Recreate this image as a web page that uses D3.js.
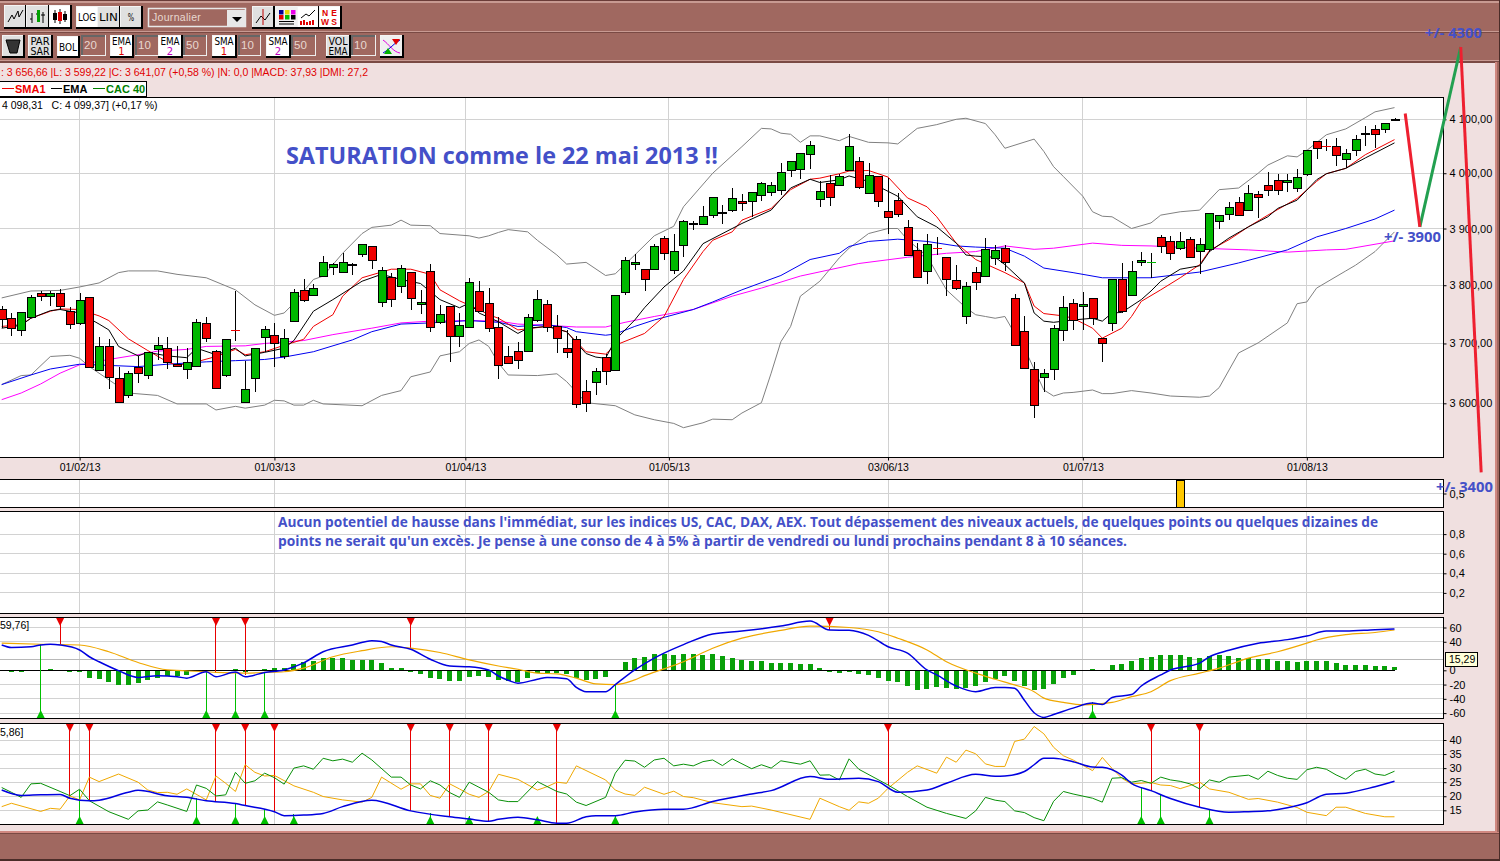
<!DOCTYPE html>
<html>
<head>
<meta charset="utf-8">
<title>CAC 40</title>
<script src="https://cdnjs.cloudflare.com/ajax/libs/d3/7.8.5/d3.min.js"></script>
<style>
  html, body { margin: 0; padding: 0; background: #f0e0e0; overflow: hidden; }
  svg { display: block; }
  text { font-family: "Liberation Sans", Arial, sans-serif; }
  .note { font-family: "Open Sans", "Noto Sans", sans-serif; font-weight: 700; fill: #4450c8; }
</style>
</head>
<body>
<script>
// Data - daily candles
const opens = [
  3759,3743,3723,3745,3787,3781,3787,3756,3736,3780,
  3655,3695,3642,3613,3661,3647,3692,3693,3665,3657,
  3662,3735,3687,3647,3723,3602,3642,3710,3714,3680,
  3738,3792,3783,3816,3832,3823,3835,3855,3869,3771,
  3815,3799,3823,3768,3825,3736,3764,3712,3729,3790,
  3769,3728,3678,3688,3687,3740,3768,3730,3693,3708,
  3620,3635,3677,3655,3788,3837,3828,3828,3883,3827,
  3870,3907,3908,3924,3927,3933,3949,3949,3960,3967,
  3969,4005,4007,4035,3953,3982,3979,4006,4022,3964,
  3995,3931,3951,3902,3862,3825,3865,3849,3809,3747,
  3823,3816,3848,3865,3778,3721,3657,3643,3657,3723,
  3769,3764,3778,3709,3735,3811,3783,3841,3840,3885,
  3878,3865,3882,3860,3863,3914,3927,3948,3933,3962,
  3978,3987,3983,3973,3998,4059,4050,4050,4026,4044,
  4073,4082,4082,4098]
const highs = [
  3764,3752,3754,3783,3790,3790,3794,3762,3787,3780,
  3711,3707,3661,3654,3678,3686,3711,3711,3696,3692,
  3742,3745,3689,3707,3790,3671,3692,3729,3734,3724,
  3794,3810,3802,3852,3839,3857,3839,3872,3869,3831,
  3822,3836,3823,3792,3838,3766,3764,3752,3812,3808,
  3795,3745,3696,3702,3751,3791,3775,3749,3723,3712,
  3639,3658,3682,3783,3849,3855,3828,3872,3887,3890,
  3915,3914,3941,3956,3942,3973,3962,3965,3984,3984,
  4018,4022,4037,4059,3985,3996,3998,4072,4030,4018,
  3995,3991,3964,3916,3874,3890,3884,3849,3835,3806,
  3832,3883,3870,3871,3785,3746,3668,3657,3732,3782,
  3776,3788,3778,3709,3811,3839,3843,3858,3856,3888,
  3887,3894,3884,3883,3927,3925,3947,3956,3978,3968,
  4002,3999,3999,4008,4043,4059,4064,4065,4044,4071,
  4088,4090,4093,4102]
const lows = [
  3726,3713,3712,3743,3772,3764,3758,3725,3732,3659,
  3654,3624,3601,3608,3634,3640,3672,3657,3660,3641,
  3661,3702,3623,3644,3705,3601,3619,3685,3661,3673,
  3738,3771,3781,3816,3817,3823,3817,3849,3829,3762,
  3762,3787,3757,3750,3719,3733,3669,3694,3729,3753,
  3719,3640,3667,3657,3686,3736,3719,3684,3676,3592,
  3585,3614,3631,3655,3783,3826,3790,3828,3844,3820,
  3849,3897,3908,3918,3908,3930,3932,3921,3950,3958,
  3961,3993,3990,4008,3939,3941,3977,4005,3971,3963,
  3938,3890,3920,3853,3815,3802,3853,3781,3792,3733,
  3792,3816,3836,3824,3697,3658,3576,3619,3638,3705,
  3723,3723,3731,3669,3722,3752,3783,3833,3813,3856,
  3845,3862,3847,3820,3859,3899,3915,3924,3932,3919,
  3959,3961,3965,3965,3994,4027,4040,4014,4009,4032,
  4050,4046,4075,4098]
const closes = [
  3742,3726,3754,3780,3781,3787,3765,3733,3775,3660,
  3695,3643,3602,3650,3651,3686,3698,3669,3662,3668,
  3736,3710,3625,3707,3722,3623,3692,3724,3700,3710,
  3788,3775,3795,3841,3837,3841,3837,3872,3844,3826,
  3777,3830,3777,3771,3728,3750,3712,3731,3806,3755,
  3726,3663,3667,3672,3745,3776,3729,3710,3687,3600,
  3600,3653,3653,3783,3844,3841,3811,3869,3856,3860,
  3913,3909,3922,3956,3929,3955,3945,3965,3982,3979,
  4002,4022,4037,4052,3967,3956,3995,4050,3975,3996,
  3949,3920,3925,3853,3815,3872,3864,3811,3795,3798,
  3806,3863,3862,3841,3698,3658,3597,3650,3726,3762,
  3740,3768,3743,3701,3811,3755,3825,3844,3841,3869,
  3856,3878,3851,3872,3927,3925,3939,3924,3964,3956,
  3969,3969,3987,3993,4043,4046,4049,4033,4038,4064,
  4075,4072,4093,4100]

// Overlays on the price panel: candle index + price
const bollUpI = [0,3,6,8,10,12,13,16,18,21,24,26,28,29,30,32,33,35,37,38,40,41,42,44,45,48,49,50,51,52,54,55,57,58,60,62,63,65,67,69,70,73,76,78,79,80,81,82,83,84,86,87,89,91,92,94,96,98,99,101,102,103,106,107,108,109,111,112,113,114,116,118,119,121,123,125,127,129,130,132,133,134,136,138,140,141,143]
const bollUpV = [3778,3790,3791,3797,3804,3822,3825,3825,3819,3813,3792,3766,3748,3752,3769,3810,3816,3856,3891,3902,3906,3915,3906,3905,3891,3887,3883,3887,3893,3898,3894,3879,3853,3837,3840,3817,3820,3853,3887,3904,3939,4000,4049,4083,4082,4074,4072,4057,4069,4069,4060,4068,4057,4056,4054,4083,4090,4100,4102,4092,4071,4046,4063,4040,4012,3994,3958,3930,3922,3921,3900,3910,3924,3930,3933,3970,3973,4000,4015,4032,4030,4042,4071,4082,4103,4114,4122]
const bollDnI = [0,2,3,5,7,8,9,13,16,18,21,22,24,25,27,28,29,30,31,32,33,37,39,41,42,44,45,47,48,49,50,51,52,55,57,58,60,63,65,67,69,70,72,73,75,76,78,79,80,81,82,84,86,87,89,91,92,93,95,97,99,100,101,102,103,104,105,107,108,109,110,112,113,114,116,118,120,123,124,125,127,129,132,133,134,135,138,139,141,143]
const bollDnV = [3631,3646,3647,3678,3680,3675,3661,3617,3613,3599,3599,3589,3595,3592,3597,3605,3604,3597,3597,3605,3599,3596,3613,3621,3644,3652,3679,3686,3700,3706,3695,3667,3647,3646,3649,3636,3601,3596,3581,3573,3567,3560,3568,3574,3573,3584,3601,3650,3703,3729,3781,3807,3848,3865,3891,3900,3900,3880,3851,3792,3761,3749,3746,3743,3746,3717,3692,3622,3612,3617,3618,3622,3616,3616,3621,3617,3612,3610,3612,3626,3684,3701,3735,3768,3771,3795,3825,3835,3859,3894]
const emaI = [0,2,3,5,6,8,10,11,12,14,15,17,19,20,22,24,25,27,29,30,32,34,37,39,41,43,45,47,48,49,51,53,54,56,58,60,61,62,63,65,66,68,70,72,76,79,81,83,84,86,87,89,92,94,96,98,99,100,102,103,105,106,107,108,110,112,113,114,115,117,118,119,121,123,124,126,128,130,131,133,135,136,138,140,143]
const emaV = [3726,3731,3743,3756,3758,3752,3733,3723,3695,3679,3685,3679,3676,3692,3681,3692,3679,3685,3692,3705,3755,3775,3807,3819,3810,3803,3775,3761,3769,3752,3737,3717,3726,3729,3720,3683,3677,3675,3706,3740,3761,3797,3825,3873,3909,3933,3973,3989,3983,3988,3995,3985,3958,3921,3903,3874,3853,3851,3849,3836,3804,3752,3738,3736,3740,3743,3738,3752,3753,3775,3790,3807,3828,3834,3859,3883,3903,3921,3936,3951,3988,3999,4009,4028,4056]
const smaI = [0,2,3,5,6,8,10,11,13,15,17,18,20,22,24,25,27,29,31,32,34,35,37,40,42,44,45,47,49,50,51,53,56,58,60,62,63,66,68,70,72,73,75,76,79,81,83,84,86,87,89,91,93,95,96,98,100,103,105,106,107,109,110,112,113,115,116,117,119,121,123,124,126,128,130,133,135,136,138,140,143]
const smaV = [3729,3732,3743,3755,3759,3758,3747,3739,3708,3688,3669,3663,3669,3678,3690,3681,3686,3697,3707,3729,3749,3781,3813,3828,3828,3819,3792,3773,3758,3749,3743,3723,3729,3720,3686,3682,3697,3717,3746,3810,3859,3879,3894,3915,3936,3970,3989,3991,3999,4004,4005,3993,3955,3939,3921,3874,3845,3822,3804,3764,3751,3747,3743,3726,3709,3726,3746,3772,3792,3813,3836,3861,3880,3903,3924,3954,3985,3999,4009,4034,4062]
const ema50I = [0,3,5,8,14,17,21,24,27,29,32,36,38,41,44,48,51,53,56,58,59,62,63,65,67,71,73,76,80,83,86,87,89,92,95,98,100,103,105,107,110,113,118,123,127,132,135,138,141,143]
const ema50V = [3631,3647,3657,3665,3661,3665,3669,3671,3673,3677,3686,3706,3720,3733,3735,3739,3736,3729,3732,3727,3720,3714,3716,3729,3740,3758,3771,3792,3817,3845,3856,3868,3877,3881,3877,3869,3867,3865,3851,3830,3822,3813,3813,3823,3839,3862,3885,3900,3917,3933]
const sma50I = [0,2,4,6,8,11,14,16,19,21,25,27,31,34,38,41,44,48,51,53,56,59,62,64,67,71,75,78,82,85,88,93,97,100,103,106,108,112,115,118,123,128,132,136,138,143]
const sma50V = [3606,3617,3632,3650,3664,3673,3681,3687,3690,3695,3696,3700,3705,3715,3726,3735,3738,3739,3738,3733,3731,3728,3728,3736,3746,3758,3781,3795,3816,3827,3838,3849,3856,3859,3869,3863,3865,3874,3870,3869,3865,3862,3858,3862,3863,3878]

// MACD panel
const macdHist = [
  0,-2,-2,0,0,2,0,-3,-2,-11,
  -12,-16,-21,-21,-18,-14,-11,-8,-8,-6,
  0,0,-1,0,2,-2,0,2,3,3,
  9,12,13,17,17,17,15,15,14,10,
  3,3,-2,-5,-11,-12,-15,-15,-9,-8,
  -9,-14,-15,-16,-11,-4,-4,-4,-5,-11,
  -14,-12,-9,0,12,17,19,23,23,21,
  23,23,21,23,20,17,14,13,13,10,
  10,10,9,9,3,-2,-4,-2,-5,-6,
  -11,-15,-16,-22,-27,-26,-23,-25,-26,-25,
  -22,-16,-12,-8,-15,-22,-27,-26,-19,-11,
  -6,0,2,0,7,9,13,17,19,21,
  21,21,19,17,20,21,20,17,17,16,
  16,13,13,12,13,13,13,10,7,7,
  7,6,6,5]
const macdI = [0,1,3,4,5,6,8,9,10,12,14,16,18,19,21,22,24,25,27,29,31,33,36,38,39,40,42,44,46,48,50,51,52,53,55,56,58,59,60,62,63,65,67,68,70,73,76,80,83,85,87,89,91,93,95,96,98,100,102,103,104,105,106,107,108,110,112,113,114,116,117,119,120,123,124,126,129,132,134,136,138,141,143]
const macdV = [35.5,32,33,35.5,36.5,35.5,28.5,19,12,-0.5,-10,-7.5,-9,-11,-2,-9,-2.5,-9,-3,0.5,10.5,26,35.5,41.5,40.5,35.5,29.5,15.5,6,5,0.5,-8,-14,-18,-12.5,-10,-12,-24,-30,-30,-20,0.5,17,24,36,51,55,62,69,56.5,56,49,33,24,0.5,-6.5,-22,-30,-24,-24,-25,-42,-59.5,-66,-62,-53,-46,-48,-38,-34,-22,-6.5,0.5,10,19,28,38,43,48,55,55,57,58]
const signalI = [0,4,8,11,14,17,21,22,25,27,29,31,34,37,40,42,45,48,51,53,55,57,59,61,63,65,66,68,70,73,76,80,83,87,90,92,95,97,100,102,104,106,107,109,111,114,116,118,120,123,125,128,131,134,135,138,141,143]
const signalV = [38,36.5,35.5,26,11,0.5,-2,-3,-4,-3,-2,3,19,27.5,33,31,25,14.5,6,1.5,-4,-5,-11,-19,-20,-13.5,-7.5,2,12,31,45,56,62,60,54,45,28.5,12,-4,-12.5,-20.5,-30,-39,-45,-48.5,-45,-37,-30,-14.5,-4,3,17,26,38,42.5,50,53,56.5]
const macdSellI = [6,22,25,42,85]
const macdSellV = [35.5,-4,-6.5,31,56.5]
const macdBuyI = [4,21,24,27,63,112]
const macdBuyV = [36.5,-2,-2,-3,-19,-45]

// DMI panel
const adxI = [0,2,4,6,7,9,10,13,14,17,19,21,24,25,28,29,31,33,35,38,42,46,48,50,51,53,55,57,58,60,61,63,65,68,70,73,77,79,83,85,88,90,92,95,97,100,102,103,105,106,107,108,110,112,113,115,116,118,120,123,126,128,130,132,134,136,138,141,143]
const adxV = [22.2,20.3,20.5,20.6,19.3,18.4,18.6,21.4,22.1,20.2,19.6,18.4,17.4,16.7,14.5,13.1,13.3,13.9,16.3,18.6,14.8,12.7,11.9,11.1,11.8,12.5,11.6,10.4,10.4,12.7,13.1,13.1,14.4,15.4,15.4,18.1,20.8,22,27,26,26.4,25.2,21.4,22.2,24.6,27.8,27.1,27.2,28.8,31.2,33.5,33.5,32.3,30.4,30.3,27.5,24.6,22,19.2,16.1,14.3,14.5,14.8,15.9,17.7,20.7,21.1,23.4,25.3]
const diMinusI = [0,1,4,5,6,7,8,9,10,12,14,15,16,17,18,19,21,22,23,24,25,26,27,28,30,32,33,35,37,38,39,41,42,43,44,45,46,47,48,49,50,51,53,55,56,57,58,59,62,63,64,65,66,68,69,70,71,73,76,77,79,83,84,86,87,88,89,90,91,93,94,96,97,98,99,100,101,102,103,104,105,106,107,108,109,110,112,113,114,115,116,118,119,120,121,122,123,124,126,128,129,131,133,134,136,137,138,140,142,143]
const diMinusV = [16.3,17.5,14.6,15.7,15.4,20.1,18.7,26.8,25.2,27.9,25,22.2,21.3,21.4,20.7,22.6,18.7,27.2,24.6,21.7,31.2,28.5,27.2,27.4,23.7,21.4,19.9,18.7,17.9,19.6,26.8,22.5,24.4,24.4,20.3,19.3,24.4,22.6,20.7,19.6,21.7,27.8,26,22.2,23.4,25,24.6,30.8,25.8,22.2,20.8,20.3,23.2,20.7,21.8,19.9,19.5,17.7,16.3,16.5,15.1,11.8,19.3,16.3,15,18,17.5,19.3,22.8,28.5,30.8,28.2,33.9,32.1,36.4,35.1,31.5,30.6,30.6,39.5,40.3,44.8,42.2,37.4,34.4,32.9,29.1,33.8,29.9,26.4,24.4,24.9,24,23.8,22.7,23.8,25,22.6,21.4,18.9,19.2,17.9,16,14.3,13.1,16.1,16.1,13.9,12.7,12.7]
const diPlusI = [0,1,2,3,4,6,7,8,9,11,13,14,15,16,17,19,20,21,22,23,24,25,26,27,28,29,30,31,32,33,34,35,36,37,38,40,41,42,43,44,45,46,47,48,49,50,51,52,53,55,57,58,59,60,62,63,64,65,66,67,68,69,70,71,72,73,74,75,77,78,79,80,82,83,84,85,86,87,88,91,93,95,97,99,100,101,102,103,104,105,106,107,108,109,110,112,113,114,115,116,117,118,119,120,121,122,123,124,125,126,128,129,130,131,132,133,134,135,136,137,138,139,140,141,142,143]
const diPlusV = [23.1,21.4,19.6,24.4,24.6,21.7,20.2,22.5,18.4,14.5,11.8,14.8,15.1,18,16.9,14.6,24,22.8,20.1,20.5,28.5,24.6,25.5,28.2,26.6,24.3,30,30.8,29.6,33.5,32.6,33.2,32.1,35.3,32.9,26.8,26.8,24,22.6,25.5,24,21.3,19.6,25,23.2,21.4,18.7,18.1,18.1,25.2,21.7,20.8,17.9,16.7,19.6,28.2,32.8,32.5,30.3,32.9,33.5,30.8,31.4,30.8,32.3,32.9,30.9,33.3,29.8,31.2,30,32.6,31.4,32.6,27.5,27.6,25.8,33.3,29.6,24,19.9,16.1,13.9,12.1,14.8,19.6,18.6,18.1,14.8,14.2,12.4,11.3,18.2,21.7,20.8,19.3,17.9,26.4,26.6,25,25.6,24.6,26.8,25.8,25.3,24.4,22.6,25.8,25,26.8,27.5,26,28.9,27.4,26.4,26,29.4,30.3,29.6,27.6,26,28.8,29.6,27.9,27.4,28.9]
const dmiSellI = [7,9,22,25,28,42,46,50,57,91,118,123]
const dmiSellV = [19.3,18.4,18.4,16.7,14.5,14.8,12.7,11.1,10.4,24,22,16.1]
const dmiBuyI = [8,20,24,27,30,44,48,55,63,117,119,124]
const dmiBuyV = [22.2,19.3,17.5,15.5,13.7,13.9,13,12.7,13.1,23.4,20.8,15.5]

// Yellow marker strip
const yellowI = [121]
const yellowV = [1]

// Hand drawn forecast on top: index + price
const fcRedI = [144.1,145.6]
const fcRedV = [4111,3903]
const fcGreenI = [145.6,149.8]
const fcGreenV = [3903,4238]
const fcDropI = [149.8,151.9]
const fcDropV = [4238,3488]

// Tick labels
const dateIdx = [8,28,47.6,68.5,91,111,134]
const dateLabels = ['01/02/13','01/03/13','01/04/13','01/05/13','03/06/13','01/07/13','01/08/13']
const priceTicks = [3600,3700,3800,3900,4000,4100]
const priceLabels = ['3 600,00','3 700,00','3 800,00','3 900,00','4 000,00','4 100,00']
const macdTicks = [-60,-40,-20,0,40,60]
const dmiTicks = [15,20,25,30,35,40]
const osTicks = [0.2,0.4,0.6,0.8]

const BROWN = '#a06860', PINK = '#f0e0e0', GRID = '#d2d2d2'

const svg = d3.select('body').append('svg').attr('width', 1500).attr('height', 861)

// Window chrome
function chrome(cx, cy, w, h, fill) {
  svg.append('rect').attr('x', cx).attr('y', cy).attr('width', w).attr('height', h).attr('fill', fill)
}
chrome(0, 0, 1500, 861, PINK)
chrome(0, 0, 1500, 62, BROWN)
chrome(0, 0, 1500, 1, '#6a3c38')
chrome(0, 1, 1500, 2, '#c89a92')
chrome(0, 31, 1500, 1, '#c89a92')
chrome(0, 32, 1500, 1, '#7a4a44')
chrome(0, 60, 1500, 1, '#c89a92')
chrome(0, 61, 1500, 2, '#7a4a44')
chrome(0, 831, 1500, 30, BROWN)
chrome(0, 831, 1500, 2, '#d08880')
chrome(0, 833, 1500, 1, '#7a4a44')
chrome(0, 859, 1500, 2, '#4a2c28')
chrome(1495, 62, 5, 770, BROWN)
chrome(1495, 62, 2, 770, '#d08880')
chrome(1499, 0, 1, 861, '#4a2c28')

// Scales
const x = d3.scaleLinear().domain([0, 143]).range([1.7, 1394.5])
const yPrice = d3.scaleLog().domain([3600, 4100]).range([403.3, 119.3])
const yMacd = d3.scaleLinear().domain([-60, 60]).range([713.1, 627.5])
const yDmi = d3.scaleLinear().domain([15, 40]).range([810.3, 740])
const yOsc = d3.scaleLinear().domain([0, 1]).range([612.5, 514.5])
const yVol = d3.scaleLinear().domain([0, 1]).range([507, 480])

const PLOT_L = -1, PLOT_R = 1443.5

// Panels: white box with date grid
function panel(top, bottom, id) {
  svg.append('clipPath').attr('id', id).append('rect')
    .attr('x', PLOT_L).attr('y', top).attr('width', PLOT_R - PLOT_L).attr('height', bottom - top)
  svg.append('rect').attr('x', PLOT_L).attr('y', top).attr('width', PLOT_R - PLOT_L).attr('height', bottom - top)
    .attr('fill', '#fff')
  svg.append('g').selectAll('line').data(dateIdx).enter().append('line')
    .attr('x1', d => x(d)).attr('x2', d => x(d))
    .attr('y1', top).attr('y2', bottom)
    .attr('stroke', GRID).attr('stroke-width', 1).attr('shape-rendering', 'crispEdges')
}
function hgrid(scale, ticks) {
  svg.append('g').selectAll('line').data(ticks).enter().append('line')
    .attr('x1', PLOT_L).attr('x2', PLOT_R)
    .attr('y1', d => scale(d)).attr('y2', d => scale(d))
    .attr('stroke', GRID).attr('stroke-width', 1).attr('shape-rendering', 'crispEdges')
}
function frame(top, bottom) {
  svg.append('rect').attr('x', PLOT_L).attr('y', top + 0.5).attr('width', PLOT_R - PLOT_L).attr('height', bottom - top)
    .attr('fill', 'none').attr('stroke', '#000').attr('stroke-width', 1).attr('shape-rendering', 'crispEdges')
}
// right hand axis, labels only
function rightAxis(scale, ticks, labels) {
  const ax = d3.axisRight(scale).tickValues(ticks).tickSize(3).tickPadding(3)
    .tickFormat((d, i) => labels ? labels[i] : String(d).replace('.', ','))
  const g = svg.append('g').attr('transform', `translate(${PLOT_R},0)`).call(ax)
  g.select('.domain').remove()
  g.selectAll('text').attr('font-size', 11).attr('fill', '#000').style('font-family', '"Liberation Sans", Arial, sans-serif')
  g.selectAll('line').attr('stroke', '#000')
}
function seriesLine(g, xs, vs, scale, color, w, curve) {
  const pts = xs.map((d, i) => [d, vs[i]])
  const line = d3.line().x(d => x(d[0])).y(d => scale(d[1]))
  if (curve) line.curve(curve)
  g.append('path').datum(pts)
    .attr('fill', 'none').attr('stroke', color).attr('stroke-width', w).attr('stroke-linejoin', 'round')
    .attr('d', line)
}
function signals(g, xs, vs, scale, top, bottom, color, up) {
  const pts = xs.map((d, i) => [d, vs[i]])
  g.selectAll(null).data(pts).enter().append('line')
    .attr('x1', d => x(d[0])).attr('x2', d => x(d[0]))
    .attr('y1', d => scale(d[1])).attr('y2', up ? bottom : top)
    .attr('stroke', color).attr('stroke-width', 1).attr('shape-rendering', 'crispEdges')
  g.selectAll(null).data(pts).enter().append('path')
    .attr('fill', color)
    .attr('d', d => {
      const px = x(d[0])
      return up
        ? `M${px - 4},${bottom} L${px},${bottom - 8} L${px + 4},${bottom} Z`
        : `M${px - 4},${top} L${px},${top + 8} L${px + 4},${top} Z`
    })
}

// Price panel
const TOP1 = 97, BOT1 = 457
panel(TOP1, BOT1, 'clipPrice')
hgrid(yPrice, priceTicks)
const gPrice = svg.append('g').attr('clip-path', 'url(#clipPrice)')
seriesLine(gPrice, bollUpI, bollUpV, yPrice, '#808080', 1)
seriesLine(gPrice, bollDnI, bollDnV, yPrice, '#808080', 1)
seriesLine(gPrice, sma50I, sma50V, yPrice, '#ff00ff', 1)
seriesLine(gPrice, ema50I, ema50V, yPrice, '#0000f0', 1)
seriesLine(gPrice, smaI, smaV, yPrice, '#f00000', 1)
seriesLine(gPrice, emaI, emaV, yPrice, '#000', 1)

// candles
const candles = opens.map((o, i) => ({ i, o, h: highs[i], l: lows[i], c: closes[i] }))
const CW = 8
const gC = gPrice.append('g')
gC.selectAll('line').data(candles).enter().append('line')
  .attr('x1', d => Math.round(x(d.i)) + 0.5).attr('x2', d => Math.round(x(d.i)) + 0.5)
  .attr('y1', d => yPrice(d.h)).attr('y2', d => yPrice(d.l))
  .attr('stroke', '#000').attr('shape-rendering', 'crispEdges')
// nearly flat days show only a coloured dash
gC.selectAll('rect').data(candles.filter(d => Math.abs(d.o - d.c) > 1)).enter().append('rect')
  .attr('x', d => Math.round(x(d.i)) - CW / 2 + 0.5)
  .attr('width', CW)
  .attr('y', d => Math.round(yPrice(Math.max(d.o, d.c))) + 0.5)
  .attr('height', d => Math.max(1, Math.round(Math.abs(yPrice(d.o) - yPrice(d.c)))))
  .attr('fill', d => d.c > d.o ? '#00b800' : '#f00000')
  .attr('stroke', '#000').attr('stroke-width', 1).attr('shape-rendering', 'crispEdges')
gC.selectAll('.dash').data(candles.filter(d => Math.abs(d.o - d.c) <= 1)).enter().append('line')
  .attr('class', 'dash')
  .attr('x1', d => Math.round(x(d.i)) - CW / 2).attr('x2', d => Math.round(x(d.i)) + CW / 2 + 1)
  .attr('y1', d => Math.round(yPrice(d.o)) + 0.5).attr('y2', d => Math.round(yPrice(d.o)) + 0.5)
  .attr('stroke', d => d.c > d.o ? '#00b800' : '#f00000').attr('shape-rendering', 'crispEdges')
frame(TOP1, BOT1)

// date axis
const axX = d3.axisBottom(x).tickValues(dateIdx).tickSize(3).tickPadding(3).tickFormat((d, i) => dateLabels[i])
const gAxX = svg.append('g').attr('transform', `translate(0,${BOT1 + 0.5})`).call(axX)
gAxX.select('.domain').remove()
gAxX.selectAll('text').attr('font-size', 10.5).attr('fill', '#000').style('font-family', '"Liberation Sans", Arial, sans-serif')
rightAxis(yPrice, priceTicks, priceLabels)

svg.append('text').attr('x', 2).attr('y', 109).attr('font-size', 10.5).attr('fill', '#000')
  .text('4 098,31\u00a0\u00a0\u00a0C: 4 099,37] (+0,17 %)')

// Status line and legend
svg.append('text').attr('x', 1).attr('y', 76).attr('font-size', 10.5).attr('fill', '#e00000')
  .text(': 3 656,66 |L: 3 599,22 |C: 3 641,07 (+0,58 %) |N: 0,0 |MACD: 37,93 |DMI: 27,2')
svg.append('rect').attr('x', -1).attr('y', 81.5).attr('width', 147.5).attr('height', 15).attr('fill', '#fff')
  .attr('stroke', '#000').attr('shape-rendering', 'crispEdges')
const legendItems = [['SMA1', '#f00000', 2, 15], ['EMA', '#000', 51, 63], ['CAC 40', '#008000', 93, 106]]
legendItems.forEach(d => {
  svg.append('line').attr('x1', d[2]).attr('x2', d[3] - 1).attr('y1', 88.5).attr('y2', 88.5).attr('stroke', d[1])
    .attr('shape-rendering', 'crispEdges')
  svg.append('text').attr('x', d[3]).attr('y', 92.5).attr('font-size', 11).attr('font-weight', 700).attr('fill', d[1]).text(d[0])
})

// Yellow marker strip
panel(479, 507, 'clipVol')
hgrid(yVol, [0.5])
svg.append('g').selectAll('rect').data(yellowI).enter().append('rect')
  .attr('x', d => Math.round(x(d)) - 4 + 0.5).attr('width', 8)
  .attr('y', (d, i) => yVol(yellowV[i])).attr('height', (d, i) => yVol(0) - yVol(yellowV[i]))
  .attr('fill', '#ffc800').attr('stroke', '#000').attr('shape-rendering', 'crispEdges')
frame(479, 507)
rightAxis(yVol, [0.5])

// Empty oscillator panel that carries the comment
panel(511, 613, 'clipOsc')
hgrid(yOsc, osTicks)
frame(511, 613)
rightAxis(yOsc, osTicks)

// MACD
const T3 = 617, B3 = 718
panel(T3, B3, 'clipMacd')
hgrid(yMacd, [-60, -40, -20, 40, 60])
svg.append('line').attr('x1', PLOT_L).attr('x2', PLOT_R).attr('y1', yMacd(15.29)).attr('y2', yMacd(15.29))
  .attr('stroke', '#b8b8b8').attr('shape-rendering', 'crispEdges')
const gMacd = svg.append('g').attr('clip-path', 'url(#clipMacd)')
gMacd.selectAll('rect').data(macdHist.map((v, i) => ({ v, i })).filter(d => d.v !== 0)).enter().append('rect')
  .attr('x', d => x(d.i) - 2.5).attr('width', 5)
  .attr('y', d => Math.min(yMacd(d.v), yMacd(0))).attr('height', d => Math.abs(yMacd(d.v) - yMacd(0)))
  .attr('fill', '#08a008').attr('shape-rendering', 'crispEdges')
gMacd.append('line').attr('x1', PLOT_L).attr('x2', x(143)).attr('y1', yMacd(0)).attr('y2', yMacd(0))
  .attr('stroke', '#000').attr('shape-rendering', 'crispEdges')
signals(gMacd, macdSellI, macdSellV, yMacd, T3 + 1, B3, '#e80000', false)
signals(gMacd, macdBuyI, macdBuyV, yMacd, T3, B3, '#00c000', true)
seriesLine(gMacd, signalI, signalV, yMacd, '#f0a800', 1.2, d3.curveMonotoneX)
seriesLine(gMacd, macdI, macdV, yMacd, '#0000e0', 1.5, d3.curveMonotoneX)
frame(T3, B3)
rightAxis(yMacd, macdTicks)
svg.append('text').attr('x', 0).attr('y', 629).attr('font-size', 10.5).attr('fill', '#000').text('59,76]')
svg.append('rect').attr('x', 1445.5).attr('y', 652.5).attr('width', 32).attr('height', 14)
  .attr('fill', '#ffffd8').attr('stroke', '#000').attr('shape-rendering', 'crispEdges')
svg.append('text').attr('x', 1449).attr('y', 663).attr('font-size', 10.5).attr('fill', '#000').text('15,29')

// DMI
const T4 = 723, B4 = 824
panel(T4, B4, 'clipDmi')
hgrid(yDmi, dmiTicks)
const gDmi = svg.append('g').attr('clip-path', 'url(#clipDmi)')
signals(gDmi, dmiSellI, dmiSellV, yDmi, T4 + 1, B4, '#e80000', false)
signals(gDmi, dmiBuyI, dmiBuyV, yDmi, T4, B4, '#00c000', true)
seriesLine(gDmi, diMinusI, diMinusV, yDmi, '#f0a800', 1)
seriesLine(gDmi, diPlusI, diPlusV, yDmi, '#089008', 1)
seriesLine(gDmi, adxI, adxV, yDmi, '#0000e0', 1.5, d3.curveMonotoneX)
frame(T4, B4)
rightAxis(yDmi, dmiTicks)
svg.append('text').attr('x', 0).attr('y', 736).attr('font-size', 10.5).attr('fill', '#000').text('5,86]')

// Toolbar buttons
function button(bx, by, w, h, lines, opt) {
  opt = opt || {}
  const g = svg.append('g').attr('transform', `translate(${bx},${by})`)
  g.append('rect').attr('x', -1).attr('y', -1).attr('width', w + 3).attr('height', h + 3).attr('fill', '#000')
  g.append('rect').attr('x', -1).attr('y', -1).attr('width', w + 1).attr('height', h + 1).attr('fill', '#f4f4f4')
  g.append('rect').attr('width', w).attr('height', h).attr('fill', opt.fill || '#e0e0e0')
  ;(lines || []).forEach((t, i) => {
    g.append('text').attr('x', w / 2).attr('y', lines.length === 1 ? h / 2 + 4 : (i === 0 ? h / 2 - 1 : h / 2 + 9))
      .attr('text-anchor', 'middle').attr('font-size', 10.5).attr('fill', (opt.colors && opt.colors[i]) || '#000')
      .style('font-family', '"DejaVu Sans", sans-serif').attr('textLength', Math.min(w - 2, t.length * 6.4)).attr('lengthAdjust', 'spacingAndGlyphs').text(t)
  })
  return g
}
function inputBox(bx, by, w, h, t) {
  svg.append('rect').attr('x', bx + 0.5).attr('y', by + 0.5).attr('width', w).attr('height', h).attr('fill', BROWN)
    .attr('stroke', '#eee').attr('shape-rendering', 'crispEdges')
  svg.append('path').attr('d', `M${bx + 1},${by + h} V${by + 1} H${bx + w}`).attr('fill', 'none').attr('stroke', '#666').attr('stroke-width', 2)
  svg.append('text').attr('x', bx + 3).attr('y', by + h / 2 + 4).attr('font-size', 11.5).attr('fill', '#e8d8d0').text(t)
}

// line / bar / candle
const b1 = button(5, 6, 20, 21)
b1.append('path').attr('d', 'M3,16 L7,9 L9,13 L13,5 L14,11 L18,4').attr('fill', 'none').attr('stroke', '#000')
const b2 = button(27, 6, 21, 21)
b2.append('path').attr('d', 'M5,7 V17 M3,13 H5 M11,4 V16 M9,8 H13 M16,6 V17 M14,9 H18').attr('fill', 'none').attr('stroke', '#000')
b2.append('rect').attr('x', 10).attr('y', 4).attr('width', 3).attr('height', 12).attr('fill', '#00a000')
const b3 = button(50, 6, 20, 21, null, { fill: '#fff' })
b3.append('path').attr('d', 'M5,4 V17 M10,3 V18 M15,5 V16').attr('stroke', '#000')
b3.append('rect').attr('x', 3).attr('y', 7).attr('width', 4).attr('height', 7).attr('fill', '#000')
b3.append('rect').attr('x', 8).attr('y', 6).attr('width', 4).attr('height', 9).attr('fill', '#e00000')
b3.append('rect').attr('x', 13).attr('y', 8).attr('width', 4).attr('height', 6).attr('fill', '#000')
button(77, 7, 20, 20, ['LOG'], { fill: '#fff' })
button(98, 7, 21, 20, ['LIN'])
button(121, 7, 20, 20, ['%'])

// period select
svg.append('rect').attr('x', 148.5).attr('y', 8.5).attr('width', 97).attr('height', 18).attr('fill', BROWN).attr('stroke', '#e8e8e8').attr('stroke-width', 1.5)
svg.append('rect').attr('x', 227).attr('y', 10).attr('width', 18).attr('height', 16).attr('fill', '#e8e8e8')
svg.append('path').attr('d', 'M233,17 H243 L238,22 Z').attr('transform', 'translate(-1,0)').attr('fill', '#000')
svg.append('text').attr('x', 152).attr('y', 21).attr('font-size', 10.5).attr('fill', '#e8d8d0').style('letter-spacing', '0.3px').text('Journalier')

const b4 = button(253, 7, 20, 20)
b4.append('path').attr('d', 'M3,16 L8,9 L12,13 L17,6').attr('fill', 'none').attr('stroke', '#000')
b4.append('path').attr('d', 'M10,2 V18').attr('stroke', '#c00000')
const b5 = button(276, 7, 21, 20, null, { fill: '#f0f0f0' })
;[['#000090', 3, 3], ['#e8d800', 9, 3], ['#e800e8', 15, 3], ['#e00000', 3, 8], ['#00c000', 9, 8], ['#000', 15, 8]].forEach(d =>
  b5.append('rect').attr('x', d[1]).attr('y', d[2]).attr('width', 4.5).attr('height', 4.5).attr('fill', d[0]))
b5.append('path').attr('d', 'M3,14.5 H18 M3,17 H18').attr('stroke', '#000')
const b6 = button(298, 7, 20, 20, null, { fill: '#fff' })
b6.append('path').attr('d', 'M3,11 L8,7 L11,9 L17,3').attr('fill', 'none').attr('stroke', '#000')
b6.append('path').attr('d', 'M3,18 V14 M6,18 V13 M9,18 V15 M12,18 V14 M15,18 V13').attr('stroke', '#e00000').attr('stroke-width', 2)
const b7 = button(320, 7, 20, 20, null, { fill: '#fff' })
;[['N', 5, 9], ['E', 14, 9], ['W', 5, 18], ['S', 14, 18]].forEach(d =>
  b7.append('text').attr('x', d[1]).attr('y', d[2]).attr('font-size', 8.5).attr('font-weight', 700).attr('fill', '#e00000').attr('text-anchor', 'middle').text(d[0]))

const b8 = button(3, 36, 20, 20)
b8.append('path').attr('d', 'M3,4 H17 L14,17 H7 Z').attr('fill', '#333').attr('stroke', '#000')
button(29, 36, 22, 20, ['PAR', 'SAR'])
button(58, 37, 20, 19, ['BOL'], { fill: '#fff' })
inputBox(81, 35, 24, 20, '20')
button(111, 36, 21, 20, ['EMA', '1'], { fill: '#fff', colors: ['#000', '#e00000'] })
inputBox(135, 35, 23, 20, '10')
button(159, 36, 22, 20, ['EMA', '2'], { fill: '#fff', colors: ['#000', '#c000c0'] })
inputBox(183, 35, 23, 20, '50')
button(213, 36, 22, 20, ['SMA', '1'], { fill: '#fff', colors: ['#000', '#e00000'] })
inputBox(238, 35, 22, 20, '10')
button(267, 36, 22, 20, ['SMA', '2'], { fill: '#fff', colors: ['#000', '#c000c0'] })
inputBox(291, 35, 24, 20, '50')
button(327, 36, 22, 20, ['VOL', 'EMA'])
inputBox(351, 35, 24, 20, '10')
const b9 = button(381, 36, 21, 20, null, { fill: '#f0f0f0' })
b9.append('path').attr('d', 'M2,4 C8,8 12,16 19,17').attr('fill', 'none').attr('stroke', '#e000e0')
b9.append('path').attr('d', 'M2,17 C8,14 12,8 19,4').attr('fill', 'none').attr('stroke', '#0000e0')
b9.append('path').attr('d', 'M11,3 H19 L15,9 Z').attr('fill', '#e00000')
b9.append('path').attr('d', 'M3,18 H11 L7,12 Z').attr('fill', '#00b000')

// Notes typed over the chart
svg.append('text').attr('class', 'note').attr('x', 286).attr('y', 164).attr('font-size', 23)
  .attr('textLength', 432).attr('lengthAdjust', 'spacingAndGlyphs')
  .text('SATURATION comme le 22 mai 2013 !!')
svg.append('text').attr('class', 'note').attr('x', 278).attr('y', 527).attr('font-size', 13.5)
  .attr('textLength', 1100).attr('lengthAdjust', 'spacingAndGlyphs')
  .text("Aucun potentiel de hausse dans l'immédiat, sur les indices US, CAC, DAX, AEX. Tout dépassement des niveaux actuels, de quelques points ou quelques dizaines de")
svg.append('text').attr('class', 'note').attr('x', 278).attr('y', 546).attr('font-size', 13.5)
  .attr('textLength', 849).attr('lengthAdjust', 'spacingAndGlyphs')
  .text("points ne serait qu'un excès. Je pense à une conso de 4 à 5% à partir de vendredi ou lundi prochains pendant 8 à 10 séances.")

// Forecast zigzag
const fcLine = (xs, vs, color) => svg.append('path').datum(xs.map((d, i) => [d, vs[i]]))
  .attr('fill', 'none').attr('stroke', color).attr('stroke-width', 3)
  .attr('d', d3.line().x(d => x(d[0])).y(d => yPrice(d[1])))
fcLine(fcGreenI, fcGreenV, '#22a050')
fcLine(fcRedI, fcRedV, '#ee2030')
fcLine(fcDropI, fcDropV, '#ee2030')

const targets = [['+/- 4300', 1425, 38], ['+/- 3900', 1384, 242], ['+/- 3400', 1436, 492]]
targets.forEach(d => {
  svg.append('text').attr('class', 'note').attr('x', d[1]).attr('y', d[2]).attr('font-size', 14.5)
    .attr('textLength', 57).attr('lengthAdjust', 'spacingAndGlyphs').text(d[0])
})
</script>
</body>
</html>
